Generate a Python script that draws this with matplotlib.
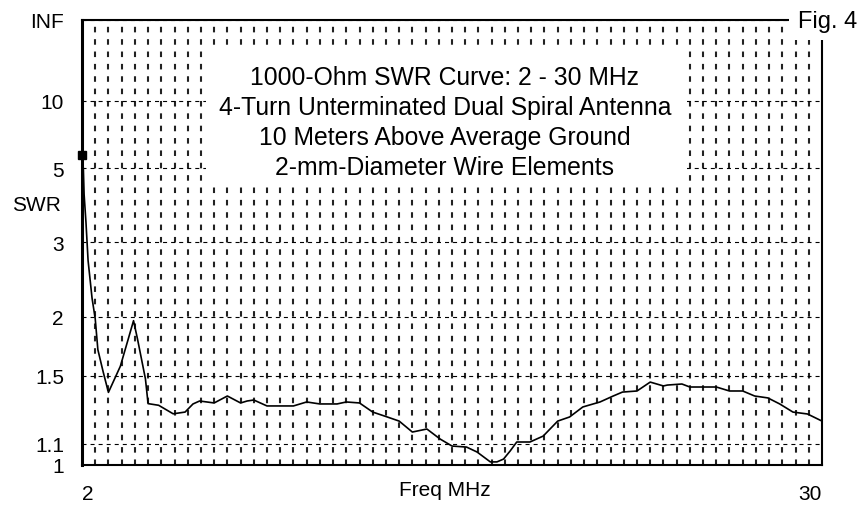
import numpy as np
import matplotlib

matplotlib.use("Agg")
import matplotlib.pyplot as plt
from matplotlib.patches import Rectangle

# SWR curve (MHz, SWR re 1000 ohms)
freq_mhz = [2.0, 2.05, 2.08, 2.15, 2.23, 2.38, 2.5, 2.6, 2.8, 3.0,
            3.45, 3.75, 3.95, 4.1, 4.4, 4.5, 4.9, 5.45, 5.9, 6.2,
            6.45, 7.0, 7.5, 8.0, 8.25, 8.5, 9.0, 10.0, 10.5, 11.0,
            11.65, 12.0, 12.5, 13.0, 13.55, 14.0, 14.5, 15.05, 15.55, 16.0,
            16.55, 16.95, 17.45, 17.7, 17.95, 18.2, 18.45, 18.95, 19.45, 20.0,
            20.45, 20.95, 21.6, 22.1, 22.45, 23.0, 23.5, 24.0, 24.15, 24.7,
            25.0, 26.0, 26.5, 27.0, 27.45, 27.95, 28.4, 28.9, 29.45, 30.0]
swr = [5.6, 5.0, 4.1, 3.4, 2.7, 2.2, 1.98, 1.7, 1.53, 1.39,
       1.57, 1.79, 1.96, 1.79, 1.48, 1.32, 1.31, 1.26, 1.27, 1.318,
       1.336, 1.324, 1.367, 1.324, 1.336, 1.342, 1.306, 1.306, 1.33, 1.318,
       1.318, 1.33, 1.324, 1.27, 1.242, 1.219, 1.16, 1.176, 1.124, 1.089,
       1.084, 1.06, 1.014, 1.014, 1.027, 1.065, 1.109, 1.109, 1.139, 1.219,
       1.242, 1.30, 1.33, 1.367, 1.392, 1.399, 1.458, 1.432, 1.438, 1.445,
       1.425, 1.425, 1.399, 1.399, 1.367, 1.355, 1.318, 1.27, 1.259, 1.219]

swr_ticks = [1, 1.1, 1.5, 2, 3, 5, 10, 1e12]
swr_tick_labels = ["1", "1.1", "1.5", "2", "3", "5", "10", "INF"]
freq_ticks = [2, 30]
freq_grid = np.arange(2, 30.01, 0.5)
title_lines = [
    "1000-Ohm SWR Curve: 2 - 30 MHz",
    "4-Turn Unterminated Dual Spiral Antenna",
    "10 Meters Above Average Ground",
    "2-mm-Diameter Wire Elements",
]


def to_rho(s):
    s = np.asarray(s, dtype=float)
    return (s - 1) / (s + 1)


def from_rho(r):
    r = np.asarray(r, dtype=float)
    with np.errstate(divide="ignore", invalid="ignore"):
        return (1 + r) / (1 - r)


plt.rcParams["font.family"] = ["Liberation Sans", "DejaVu Sans"]
plt.rcParams["lines.scale_dashes"] = False

fig = plt.figure(figsize=(8.6, 5.06), dpi=100)
ax = fig.add_axes([82 / 860, 40 / 506, 740 / 860, 445 / 506])
ax.set_yscale("function", functions=(to_rho, from_rho))
ax.set_xlim(2, 30)
ax.set_ylim(1, 1e12)

ax.set_axisbelow(True)
ax.set_xticks(freq_ticks)
ax.set_xticks(freq_grid, minor=True)
ax.set_yticks(swr_ticks, swr_tick_labels)
ax.yaxis.set_minor_locator(matplotlib.ticker.NullLocator())
ax.xaxis.grid(True, which="minor", color="#222222", lw=1.5, ls=(0, (4.0, 4.9)))
ax.yaxis.grid(True, which="major", color="black", lw=0.8, ls=(0, (2.9, 2.9)))
ax.tick_params(which="both", length=0)
ax.tick_params(axis="y", labelsize=15, pad=13)
ax.tick_params(axis="x", labelsize=15, pad=14)
xl = ax.get_xticklabels()
xl[0].set_ha("left")
xl[1].set_ha("right")

ax.set_xlabel("Freq MHz", fontsize=15)
ax.xaxis.set_label_coords(0.49, -0.033)
ax.set_ylabel("SWR", fontsize=15, rotation=0, ha="right", va="center")
ax.yaxis.set_label_coords(-0.028, 0.585)

for side in ax.spines.values():
    side.set_linewidth(1.5)
ax.spines["left"].set_linewidth(2.2)

# white panel behind the caption
ax.add_patch(Rectangle((0.1676, 0.627), 0.65, 0.315, transform=ax.transAxes,
                       facecolor="white", edgecolor="none", zorder=1))
for i, line in enumerate(title_lines):
    ax.text(0.4905, 0.856 - i * 0.0674, line, transform=ax.transAxes,
            ha="center", va="baseline", fontsize=17.8, zorder=4)

ax.plot(freq_mhz, swr, color="black", lw=1.2, zorder=3)
ax.plot(freq_mhz[:1], swr[:1], "s", color="black", ms=5.5, clip_on=False, zorder=3)

fig.text(857 / 860, 1 - 28 / 506, "Fig. 4", ha="right", va="baseline", fontsize=17,
         bbox=dict(facecolor="white", edgecolor="none", pad=6))

fig.savefig("out.png", dpi=100, facecolor="white")
